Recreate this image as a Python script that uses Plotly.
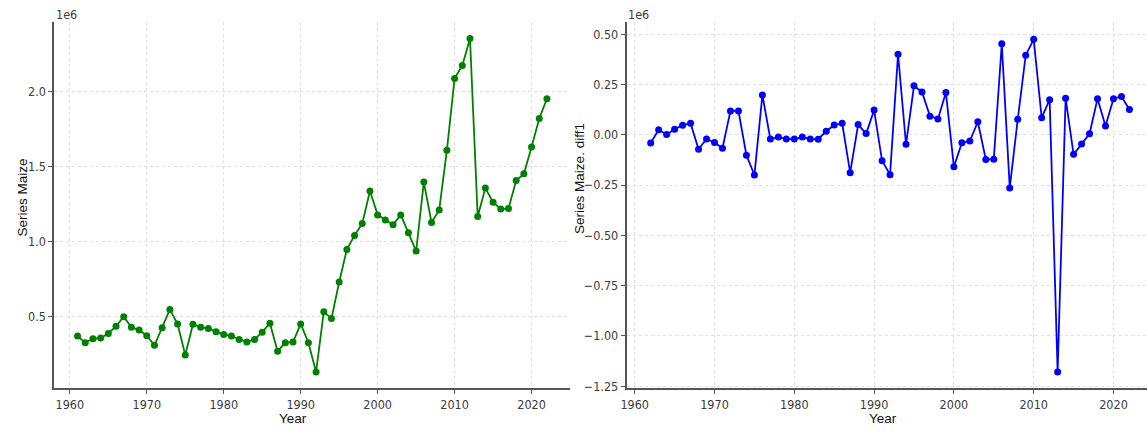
import plotly.graph_objects as go

# Annual maize series and its first difference
years = list(range(1961, 2023))
maize = [
    368000, 324000, 350000, 355000, 385000, 434000, 498000, 427000, 408000, 370000,
    306000, 423000, 546000, 449000, 242000, 447000, 427000, 418000, 397000, 379000,
    368000, 346000, 328000, 346000, 394000, 454000, 267000, 324000, 328000, 449000,
    324000, 128000, 531000, 485000, 729000, 947000, 1040000, 1121000, 1338000, 1178000,
    1143000, 1112000, 1178000, 1059000, 936000, 1397000, 1127000, 1211000, 1610000, 2090000,
    2176000, 2357000, 1167000, 1357000, 1262000, 1218000, 1220000, 1408000, 1452000, 1631000,
    1822000, 1954000,
]

diff_years = list(range(1962, 2023))
maize_diff1 = [
    -41000, 25000, 2000, 28000, 48000, 57000, -72000, -21000, -38000, -67000,
    119000, 119000, -101000, -200000, 198000, -21000, -11000, -21000, -21000, -11000,
    -21000, -22000, 18000, 49000, 57000, -188000, 51000, 6000, 123000, -129000,
    -198000, 401000, -47000, 244000, 213000, 93000, 79000, 210000, -159000, -39000,
    -31000, 65000, -123000, -121000, 453000, -264000, 77000, 396000, 475000, 85000,
    175000, -1180000, 182000, -97000, -46000, 5000, 180000, 44000, 180000, 191000,
    126000,
]

year_ticks = [1960, 1970, 1980, 1990, 2000, 2010, 2020]
level_ticks = [500000, 1000000, 1500000, 2000000]
level_labels = ["0.5", "1.0", "1.5", "2.0"]
diff_ticks = [500000, 250000, 0, -250000, -500000, -750000, -1000000, -1250000]
diff_labels = ["0.50", "0.25", "0.00", "\u22120.25", "\u22120.50", "\u22120.75", "\u22121.00", "\u22121.25"]

W, H = 1147, 432
TICK_FONT = dict(family="Liberation Sans Narrow, DejaVu Sans Condensed, Arial Narrow, sans-serif",
                 size=12.5, color="#3c3c3c")
TITLE_FONT = dict(family="Liberation Sans, Arial, sans-serif", size=13.5, color="#111111")
GRID = "#e0e0e0"
SPINE = "#555555"

fig = go.Figure()
fig.add_trace(go.Scatter(
    x=years, y=maize, mode="lines+markers",
    line=dict(color="#008000", width=1.8),
    marker=dict(color="#008000", size=7),
    xaxis="x", yaxis="y", showlegend=False,
))
fig.add_trace(go.Scatter(
    x=diff_years, y=maize_diff1, mode="lines+markers",
    line=dict(color="#0000ff", width=1.8),
    marker=dict(color="#0000ff", size=7),
    xaxis="x2", yaxis="y2", showlegend=False,
))

y_dom = [1 - 392.7 / H, 1 - 22.7 / H]

common_x = dict(
    tickvals=year_ticks, ticks="outside", ticklen=4, tickwidth=1, tickcolor=SPINE,
    showline=True, linecolor=SPINE, linewidth=2, mirror=False,
    showgrid=True, gridcolor=GRID, gridwidth=1, griddash="dot",
    zeroline=False, tickfont=TICK_FONT,
)
common_y = dict(
    ticks="outside", ticklen=4, tickwidth=1, tickcolor=SPINE,
    showline=True, linecolor=SPINE, linewidth=2, mirror=False,
    showgrid=True, gridcolor=GRID, gridwidth=1, griddash="dot",
    zeroline=False, tickfont=TICK_FONT,
)

fig.update_layout(
    width=W, height=H,
    margin=dict(l=0, r=0, t=0, b=0),
    paper_bgcolor="white", plot_bgcolor="white",
    xaxis=dict(domain=[48.7 / W, 567 / W], range=[1958.0, 2025.0], anchor="y", **common_x),
    yaxis=dict(domain=y_dom, range=[20000, 2464000], anchor="x",
               tickvals=level_ticks, ticktext=level_labels, **common_y),
    xaxis2=dict(domain=[624 / W, 1.0], range=[1959.0, 2024.2], anchor="y2", **common_x),
    yaxis2=dict(domain=y_dom, range=[-1260000, 559000], anchor="x2",
                tickvals=diff_ticks, ticktext=diff_labels, **common_y),
)

annotations = [
    # axis titles
    dict(text="Year", x=289 / W, y=1 - 423 / H, xref="paper", yref="paper",
         showarrow=False, font=TITLE_FONT, xanchor="center", yanchor="middle"),
    dict(text="Year", x=882 / W, y=1 - 423 / H, xref="paper", yref="paper",
         showarrow=False, font=TITLE_FONT, xanchor="center", yanchor="middle"),
    dict(text="Series Maize", x=17 / W, y=1 - 200 / H, xref="paper", yref="paper",
         showarrow=False, font=TITLE_FONT, textangle=-90, xanchor="center", yanchor="middle"),
    dict(text="Series Maize. diff1", x=577 / W, y=1 - 180 / H, xref="paper", yref="paper",
         showarrow=False, font=TITLE_FONT, textangle=-90, xanchor="center", yanchor="middle"),
    # scale factor labels
    dict(text="1e6", x=48 / W, y=1 - 15 / H, xref="paper", yref="paper",
         showarrow=False, font=TICK_FONT, xanchor="left", yanchor="middle"),
    dict(text="1e6", x=623 / W, y=1 - 15 / H, xref="paper", yref="paper",
         showarrow=False, font=TICK_FONT, xanchor="left", yanchor="middle"),
]
fig.update_layout(annotations=annotations)

fig.write_html("out.html")
